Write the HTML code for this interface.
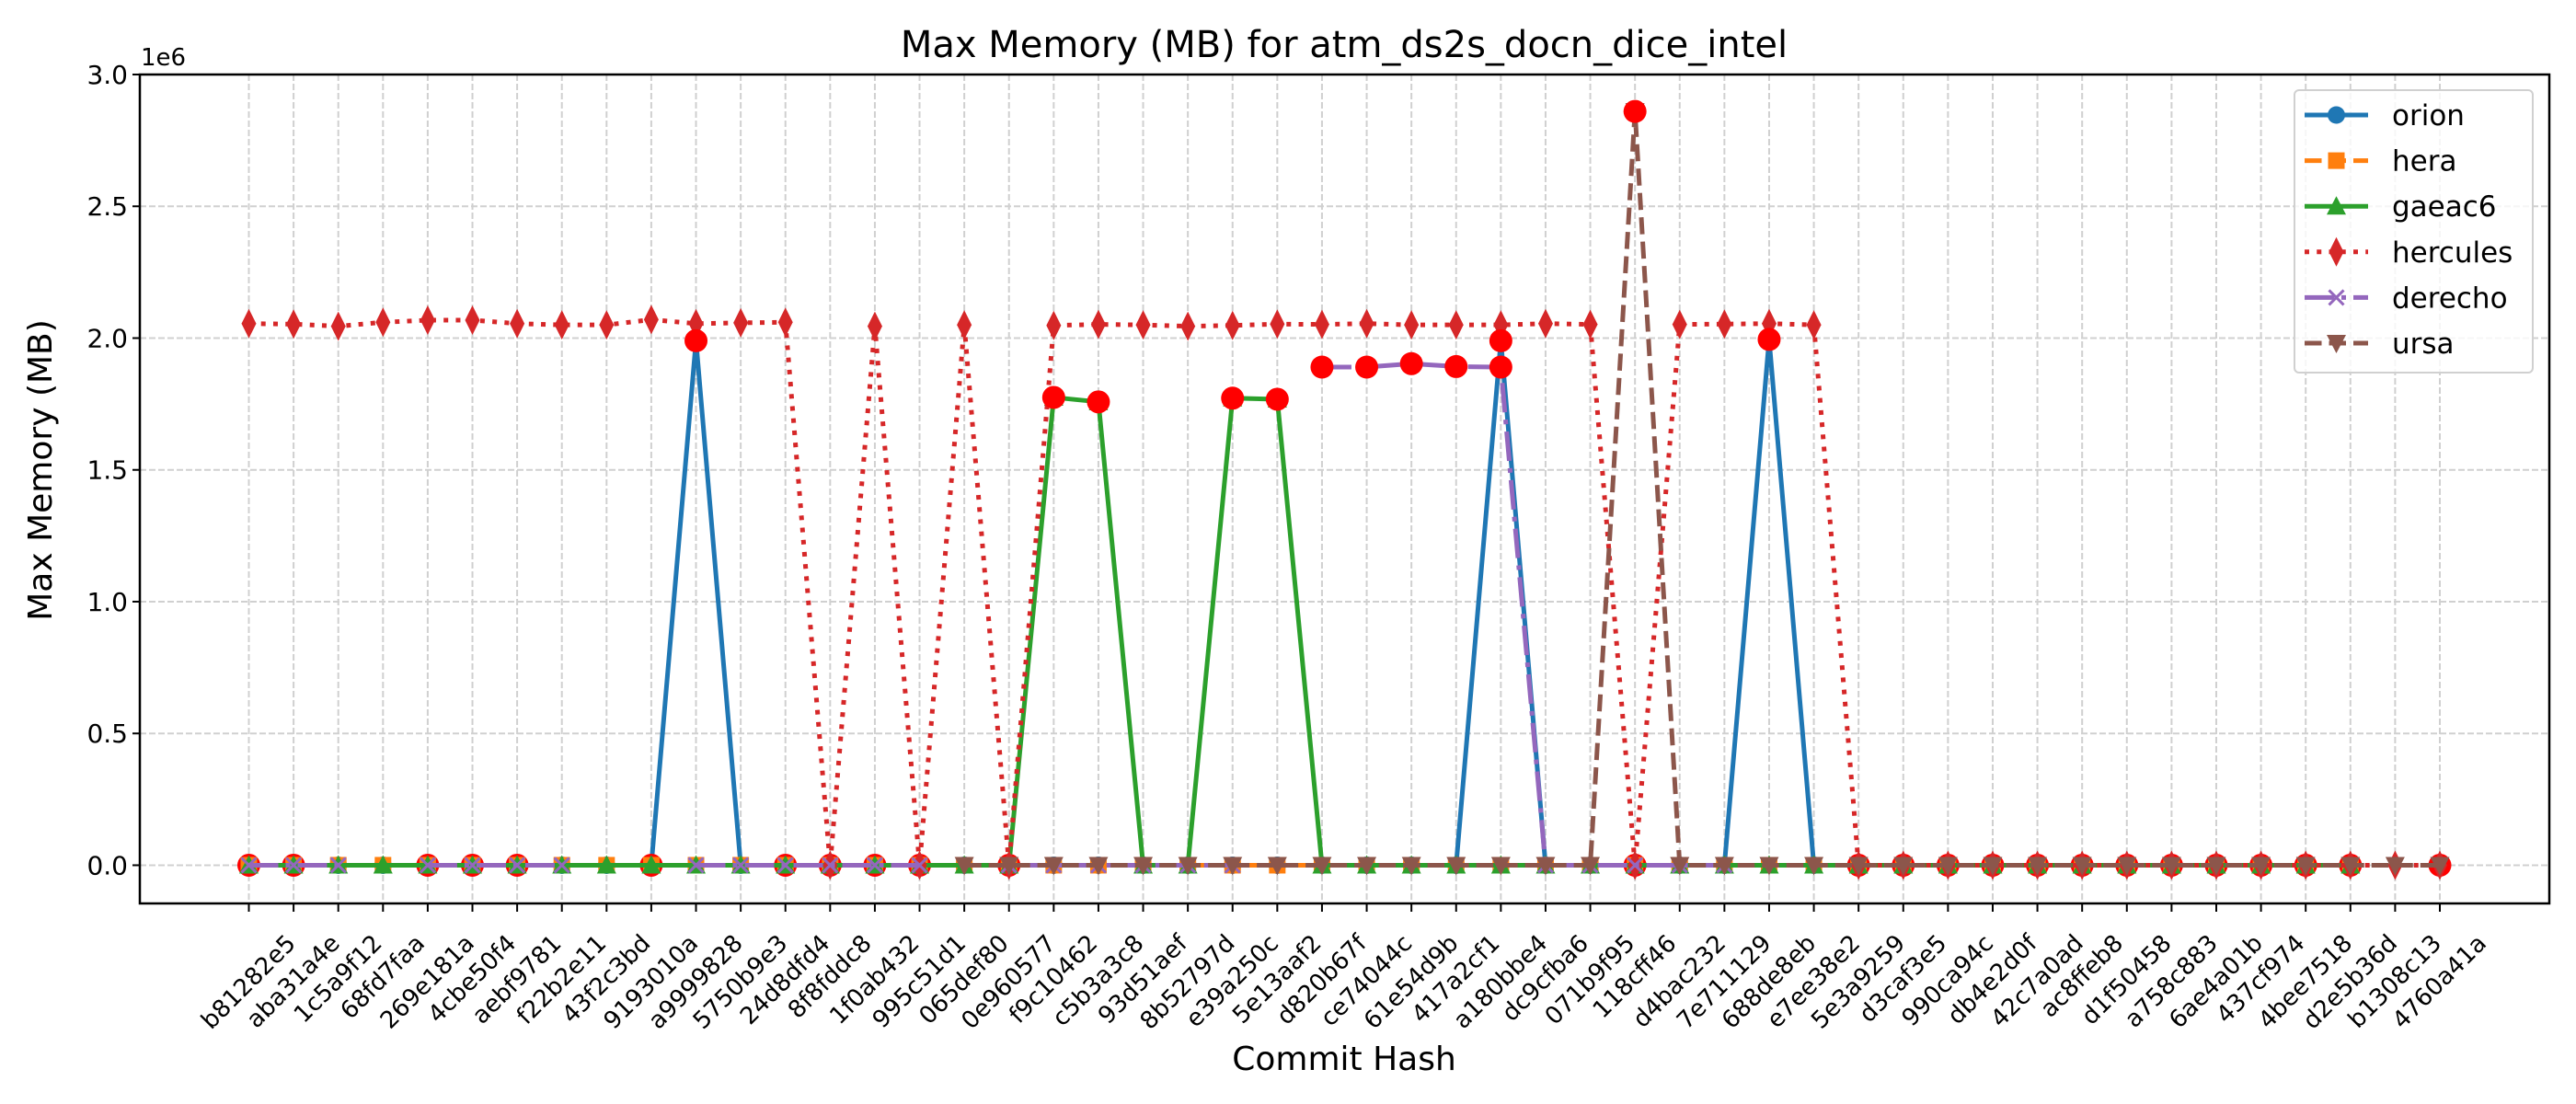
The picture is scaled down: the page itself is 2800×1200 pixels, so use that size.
<!DOCTYPE html>
<html><head><meta charset="utf-8"><style>
html,body{margin:0;padding:0;background:#fff}
svg{display:block;font-family:"DejaVu Sans","Liberation Sans",sans-serif}
</style></head><body>
<svg id="chart" width="2800" height="1200" viewBox="0 0 2800 1200" xmlns="http://www.w3.org/2000/svg">
<rect width="2800" height="1200" fill="#fff"/>
<g id="grid"></g>
<g id="series"></g>
<rect x="152" y="81" width="2619" height="901" fill="none" stroke="#000" stroke-width="2.5"/>
<g id="axes"></g>
<text x="1461" y="62" font-size="40" text-anchor="middle">Max Memory (MB) for atm_ds2s_docn_dice_intel</text>
<text x="153" y="71" font-size="26">1e6</text>
<text x="1461" y="1163" font-size="36" text-anchor="middle">Commit Hash</text>
<text transform="translate(56,511) rotate(-90)" font-size="36" text-anchor="middle">Max Memory (MB)</text>
<g id="legend"></g>
</svg>
<script>
const categories = ["b81282e5","aba31a4e","1c5a9f12","68fd7faa","269e181a","4cbe50f4","aebf9781","f22b2e11","43f2c3bd","9193010a","a9999828","5750b9e3","24d8dfd4","8f8fddc8","1f0ab432","995c51d1","065def80","0e960577","f9c10462","c5b3a3c8","93d51aef","8b52797d","e39a250c","5e13aaf2","d820b67f","ce74044c","61e54d9b","417a2cf1","a180bbe4","dc9cfba6","071b9f95","118cff46","d4bac232","7e711129","688de8eb","e7ee38e2","5e3a9259","d3caf3e5","990ca94c","db4e2d0f","42c7a0ad","ac8ffeb8","d1f50458","a758c883","6ae4a01b","437cf974","4bee7518","d2e5b36d","b1308c13","4760a41a"];
const yTicks = [0,0.5,1.0,1.5,2.0,2.5,3.0];
const yTickLabels = ["0.0","0.5","1.0","1.5","2.0","2.5","3.0"];
const N = null;
const orion = [0,0,0,0,0,0,0,0,0,0,1.99,0,0,0,0,0,0,0,0,0,0,0,0,0,0,0,0,0,1.99,0,0,0,0,0,1.995,0,N,N,N,N,N,N,N,N,N,N,N,N,N,N];
const hera = [0,0,0,0,0,0,0,0,0,0,0,0,0,0,0,0,0,0,0,0,0,0,0,0,0,0,0,0,0,0,0,0,0,0,0,0,0,0,0,0,0,0,0,0,0,0,0,0,N,N];
const gaeac6 = [0,0,0,0,0,0,0,0,0,0,0,0,0,0,0,0,0,0,1.775,1.758,0,0,1.772,1.768,0,0,0,0,0,0,0,0,0,0,0,0,0,0,0,0,0,0,0,0,0,0,0,0,N,N];
const hercules = [2.055,2.053,2.045,2.06,2.068,2.068,2.055,2.05,2.05,2.07,2.055,2.058,2.06,0,2.045,0,2.05,0,2.048,2.052,2.05,2.045,2.048,2.053,2.052,2.055,2.05,2.05,2.05,2.055,2.052,0,2.052,2.053,2.055,2.05,0,0,0,0,0,0,0,0,0,0,0,0,0,0];
const derecho = [0,0,0,N,0,0,0,0,N,N,0,0,0,0,0,0,N,0,0,0,0,0,0,N,1.89,1.89,1.903,1.892,1.89,0,0,0,0,0,N,N,N,N,N,N,N,N,N,N,N,N,N,N,N,N];
const ursa = [N,N,N,N,N,N,N,N,N,N,N,N,N,N,N,N,0,0,0,0,0,0,0,0,0,0,0,0,0,0,0,2.86,0,0,0,0,0,0,0,0,0,0,0,0,0,0,0,0,0,0];
const lowHighlightIdx = [0,1,4,5,6,9,12,13,14,15,17,31,36,37,38,39,40,41,42,43,44,45,46,47,49];
const peakHighlightIdx = [10,18,19,22,23,24,25,26,27,28,28,31,34];
const peakHighlightVal = [1.99,1.775,1.758,1.772,1.768,1.89,1.89,1.903,1.892,1.89,1.99,2.86,1.995];

const L=152,R=2771,T=81,B=982,YMIN=-0.145,YMAX=3.0;
const X0=270.5, DX=(2652-270.5)/49;
const xs=i=>X0+DX*i;
const ys=v=>B-(v-YMIN)/(YMAX-YMIN)*(B-T);
const NS="http://www.w3.org/2000/svg";
function mk(tag,attrs,parent){const e=document.createElementNS(NS,tag);for(const k in attrs)e.setAttribute(k,attrs[k]);parent.appendChild(e);return e;}
const grid=document.getElementById('grid'),axes=document.getElementById('axes'),ser=document.getElementById('series'),leg=document.getElementById('legend');

yTicks.forEach((t,k)=>{
  const y=ys(t);
  const g=mk('line',{x1:L,x2:R,y1:y,y2:y,stroke:'#d0d0d0','stroke-width':2,'stroke-dasharray':'7,3'},grid);
  
  
  const tk=mk('line',{x1:L-8,x2:L,y1:y,y2:y,stroke:'#000','stroke-width':2},axes);
  
  
  const tx=mk('text',{x:L-13,y:y+10,'font-size':28,'text-anchor':'end'},axes);
  tx.textContent=yTickLabels[k];
  
  
});
categories.forEach((c,i)=>{
  const x=xs(i);
  const g=mk('line',{x1:x,x2:x,y1:T,y2:B,stroke:'#d0d0d0','stroke-width':2,'stroke-dasharray':'7,3'},grid);
  
  
  const tk=mk('line',{x1:x,x2:x,y1:B,y2:B+9,stroke:'#000','stroke-width':2},axes);
  
  
  const t=mk('text',{'font-size':26,'text-anchor':'middle','dominant-baseline':'central'},axes);
  t.textContent=c;
  
  
  const len=t.getComputedTextLength()||125;
  const cy=B+30+(len+26)*0.3536;
  t.setAttribute('x',x);t.setAttribute('y',cy);
  t.setAttribute('transform','rotate(-45 '+x+' '+cy+')');
});

const LW=5;
function marker(type,x,y,color,parent){
  let e;
  if(type==='o') e=mk('circle',{cx:x,cy:y,r:9.5,fill:color},parent);
  else if(type==='s') e=mk('rect',{x:x-9,y:y-9,width:18,height:18,fill:color},parent);
  else if(type==='^') e=mk('polygon',{points:`${x},${y-11} ${x-10.5},${y+9} ${x+10.5},${y+9}`,fill:color},parent);
  else if(type==='v') e=mk('polygon',{points:`${x},${y+11} ${x-10.5},${y-9} ${x+10.5},${y-9}`,fill:color},parent);
  else if(type==='d') e=mk('polygon',{points:`${x},${y-16} ${x-8},${y} ${x},${y+16} ${x+8},${y}`,fill:color},parent);
  else if(type==='x'){e=mk('path',{d:`M${x-8},${y-8}L${x+8},${y+8}M${x-8},${y+8}L${x+8},${y-8}`,stroke:color,'stroke-width':3},parent);}
  return e;
}
const specs=[
 {name:'orion',data:orion,color:'#1f77b4',dash:'',m:'o'},
 {name:'hera',data:hera,color:'#ff7f0e',dash:`${3.7*LW},${1.6*LW}`,m:'s'},
 {name:'gaeac6',data:gaeac6,color:'#2ca02c',dash:'',m:'^'},
 {name:'hercules',data:hercules,color:'#d62728',dash:`${1*LW},${1.65*LW}`,m:'d'},
 {name:'derecho',data:derecho,color:'#9467bd',dash:`${6.4*LW},${1.6*LW},${1*LW},${1.6*LW}`,m:'x'},
 {name:'ursa',data:ursa,color:'#8c564b',dash:`${3.7*LW},${1.6*LW}`,m:'v'}
];
function drawSeries(s){
  const g=mk('g',{},ser);
  
  
  let segs=[],cur=[];
  s.data.forEach((v,i)=>{if(v===null){if(cur.length)segs.push(cur);cur=[];}else cur.push([xs(i),ys(v)]);});
  if(cur.length)segs.push(cur);
  segs.forEach(sg=>{
    if(sg.length<2)return;
    const p=mk('polyline',{points:sg.map(q=>q.join(',')).join(' '),fill:'none',stroke:s.color,'stroke-width':LW,'stroke-dasharray':s.dash,'stroke-linejoin':'round'},g);
    
    
  });
  s.data.forEach((v,i)=>{if(v===null)return;
    const e=marker(s.m,xs(i),ys(v),s.color,g);
    
    
  });
}
function highlight(x,y){
  const c=mk('circle',{cx:x,cy:y,r:12.5,fill:'#ff0000'},ser);
  
  
}
drawSeries(specs[0]);
lowHighlightIdx.forEach(i=>highlight(xs(i),ys(0)));
for(let k=1;k<specs.length;k++)drawSeries(specs[k]);
peakHighlightIdx.forEach((i,k)=>highlight(xs(i),ys(peakHighlightVal[k])));

const box=mk('rect',{x:2494,y:98,width:259,height:307,rx:5,fill:'#fff','fill-opacity':0.8,stroke:'#d0d0d0','stroke-width':2},leg);


specs.forEach((s,k)=>{
  const y=125+k*49.6;
  const g=mk('g',{},leg);
  
  
  mk('line',{x1:2505,x2:2574,y1:y,y2:y,stroke:s.color,'stroke-width':LW,'stroke-dasharray':s.dash},g);
  marker(s.m,2539.5,y,s.color,g);
  const t=mk('text',{x:2600,y:y+11,'font-size':31},g);
  t.textContent=s.name;
});
</script>
</body></html>
